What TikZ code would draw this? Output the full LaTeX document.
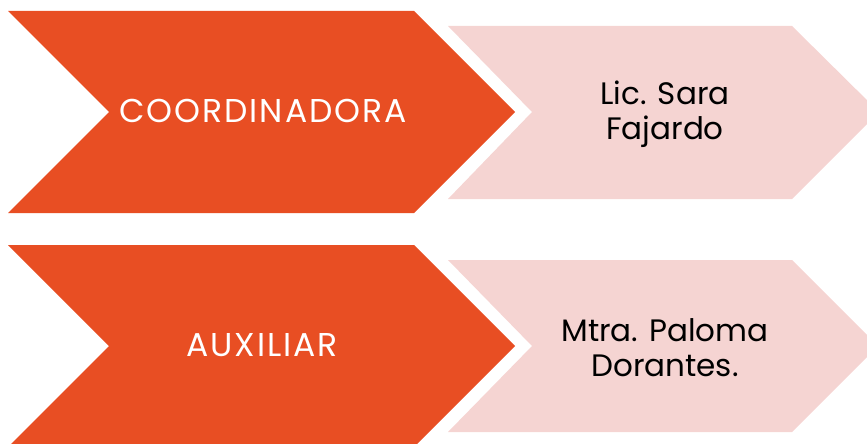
\documentclass[tikz,border=0pt]{standalone}
\usepackage{fontspec}
\setmainfont{Poppins}
\newfontfamily\widefont[LetterSpace=6]{Poppins}
\definecolor{orangeC}{HTML}{E84E23}
\definecolor{pinkC}{HTML}{F5D4D2}
\begin{document}
\begin{tikzpicture}[x=1pt,y=-1pt,
  bigtxt/.style={text=white,font=\widefont\fontsize{33}{36}\selectfont,inner sep=0pt,anchor=base},
  nametxt/.style={text=black,font=\fontsize{31}{35}\selectfont,inner sep=0pt,align=center}]
\useasboundingbox (0,0) rectangle (867,444);
\clip (0,0) rectangle (867,444);
% top row
\fill[orangeC] (8,11) -- (414,11) -- (515,112) -- (414,213) -- (8,213) -- (109,112) -- cycle;
\fill[pinkC] (448,26) -- (792,26) -- (879,112) -- (792,199) -- (448,199) -- (532,112) -- cycle;
% bottom row
\fill[orangeC] (8,245) -- (414,245) -- (515,346) -- (414,447) -- (8,447) -- (109,346) -- cycle;
\fill[pinkC] (448,260) -- (792,260) -- (878,346) -- (792,432) -- (448,432) -- (532,346) -- cycle;
% texts
\node[bigtxt] (coord) at (263,122) {COORDINADORA};
\node[bigtxt] (aux) at (262,356) {AUXILIAR};
\node[nametxt] (sara) at (665,114) {Lic. Sara\\Fajardo};
\node[nametxt] (paloma) at (665,348) {Mtra. Paloma\\Dorantes.};
\end{tikzpicture}
\end{document}
